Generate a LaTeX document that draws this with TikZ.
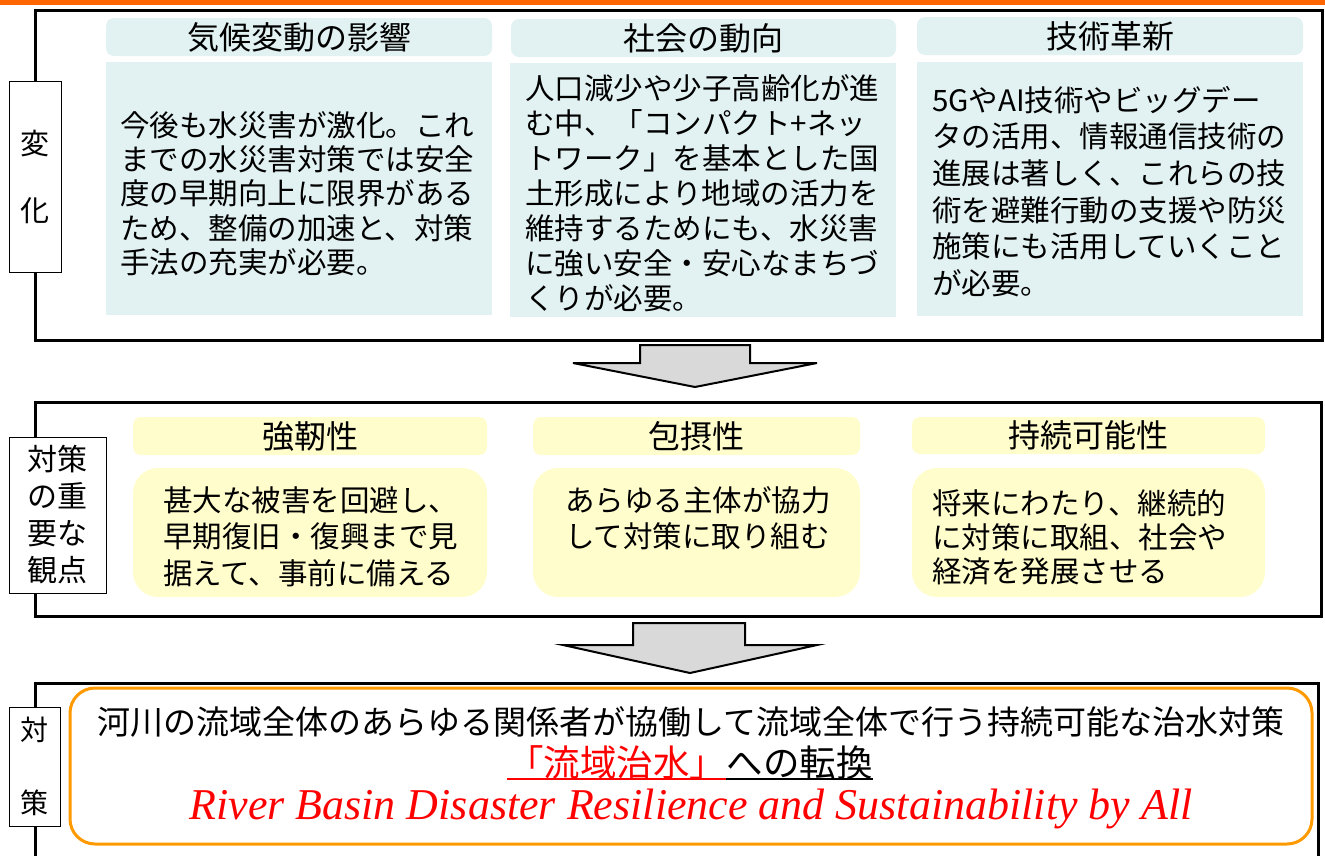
\documentclass[tikz,border=0pt]{standalone}
\usepackage{fontspec}
\setmainfont{Liberation Serif}
\newfontfamily\jp{Noto Sans CJK JP}
\usetikzlibrary{calc}
\definecolor{topor}{RGB}{255,102,0}
\definecolor{boxor}{RGB}{255,153,0}
\definecolor{cyanbg}{RGB}{226,241,241}
\definecolor{yelbg}{RGB}{255,253,204}
\definecolor{arrowgray}{RGB}{217,217,217}
\definecolor{txtred}{RGB}{255,0,0}
\begin{document}
\begin{tikzpicture}[x=1pt,y=-1pt,
  frame/.style={draw=black, line width=3pt, inner sep=0pt, anchor=north west},
  tagbox/.style={draw=black, line width=1pt, fill=white, inner sep=0pt, align=center},
  chead/.style={fill=cyanbg, rounded corners=8pt, inner sep=0pt, font={\jp\fontsize{32pt}{38pt}\selectfont}},
  cbody/.style={fill=cyanbg, inner sep=0pt},
  yhead/.style={fill=yelbg, rounded corners=8pt, inner sep=0pt, font={\jp\fontsize{32pt}{38pt}\selectfont}},
  ybody/.style={fill=yelbg, rounded corners=25pt, inner sep=0pt},
  bodytxt/.style={inner sep=0pt, anchor=west, align=left},
  blockarrow/.style={draw=black, line width=2pt, fill=arrowgray, line join=miter}
]
\useasboundingbox (0,0) rectangle (1325,855);
\fill[topor] (0,0) rectangle (1325,4.5);

% ---- frames ----
\node[frame, minimum width=1287pt, minimum height=330pt] (f1) at (34,9) {};
\node[frame, minimum width=1286pt, minimum height=214pt] (f2) at (34,401) {};
\node[frame, minimum width=1283pt, minimum height=190pt] (f3) at (34,682) {};

% ---- tags ----
\node[tagbox, minimum width=52pt, minimum height=191pt, font={\jp\fontsize{29pt}{67pt}\selectfont}] (tag1) at (35,176.5) {変\\化};
\node[tagbox, minimum width=97pt, minimum height=156pt, font={\jp\fontsize{30pt}{37pt}\selectfont}] (tag2) at (57.5,515) {対策\\の重\\要な\\観点};
\node[tagbox, minimum width=51pt, minimum height=119pt, font={\jp\fontsize{28pt}{73pt}\selectfont}] (tag3) at (34.5,766.5) {対\\策};

% ---- top section ----
\node[chead, minimum width=386pt, minimum height=38pt] (h1) at (299,37) {気候変動の影響};
\node[chead, minimum width=385pt, minimum height=38pt] (h2) at (703.5,38) {社会の動向};
\node[chead, minimum width=386pt, minimum height=38pt] (h3) at (1110,36) {技術革新};
\node[cbody, minimum width=386pt, minimum height=253pt] (b1) at (299,188.5) {};
\node[cbody, minimum width=386pt, minimum height=254pt] (b2) at (703,190) {};
\node[cbody, minimum width=386pt, minimum height=254pt] (b3) at (1110,189) {};
\node[bodytxt, font={\jp\fontsize{29.5pt}{34.3pt}\selectfont}] (t1) at (120,193.5)
 {今後も水災害が激化。これ\\までの水災害対策では安全\\度の早期向上に限界がある\\ため、整備の加速と、対策\\手法の充実が必要。};
\node[bodytxt, font={\jp\fontsize{29.5pt}{35pt}\selectfont}] (t2) at (525,193)
 {人口減少や少子高齢化が進\\む中、「コンパクト+ネッ\\トワーク」を基本とした国\\土形成により地域の活力を\\維持するためにも、水災害\\に強い安全・安心なまちづ\\くりが必要。};
\node[bodytxt, font={\jp\fontsize{29.5pt}{36.6pt}\selectfont}] (t3) at (932,191.5)
 {5GやAI技術やビッグデー\\タの活用、情報通信技術の\\進展は著しく、これらの技\\術を避難行動の支援や防災\\施策にも活用していくこと\\が必要。};

% ---- arrow 1 ----
\draw[blockarrow] (640,345) -- (750,345) -- (750,363) -- (817,363) -- (695,387) -- (573,363) -- (640,363) -- cycle;

% ---- middle section ----
\node[yhead, minimum width=354pt, minimum height=38pt] (yh1) at (310,436) {強靭性};
\node[yhead, minimum width=327pt, minimum height=38pt] (yh2) at (696.5,436) {包摂性};
\node[yhead, minimum width=353pt, minimum height=37pt] (yh3) at (1088.5,435.5) {持続可能性};
\node[ybody, minimum width=354pt, minimum height=129pt] (yb1) at (310,532.5) {};
\node[ybody, minimum width=327pt, minimum height=129pt] (yb2) at (696.5,532.5) {};
\node[ybody, minimum width=353pt, minimum height=129pt] (yb3) at (1088.5,532.5) {};
\node[bodytxt, font={\jp\fontsize{29.5pt}{36.5pt}\selectfont}] (m1) at (163,536.5)
 {甚大な被害を回避し、\\早期復旧・復興まで見\\据えて、事前に備える};
\node[bodytxt, font={\jp\fontsize{29.5pt}{36.5pt}\selectfont}] (m2) at (565,518)
 {あらゆる主体が協力\\して対策に取り組む};
\node[bodytxt, font={\jp\fontsize{29.5pt}{34pt}\selectfont}] (m3) at (932,537)
 {将来にわたり、継続的\\に対策に取組、社会や\\経済を発展させる};

% ---- arrow 2 ----
\draw[blockarrow] (633,623) -- (745,623) -- (745,645) -- (817,645) -- (690,673) -- (563,645) -- (633,645) -- cycle;

% ---- bottom section ----
\node[draw=boxor, line width=3pt, rounded corners=25pt, minimum width=1242pt, minimum height=156pt, inner sep=0pt] (ob) at (691,766) {};
\node[inner sep=0pt, font={\jp\fontsize{33pt}{38pt}\selectfont}] (l1) at (691,722)
 {河川の流域全体のあらゆる関係者が協働して流域全体で行う持続可能な治水対策};
\node[inner sep=0pt, anchor=west, text=txtred, font={\jp\fontsize{36.5pt}{40pt}\selectfont}] (l2a) at (507,763) {「流域治水」};
\node[inner sep=0pt, anchor=west, font={\jp\fontsize{36.5pt}{40pt}\selectfont}] (l2b) at (l2a.east) {への転換};
\draw[txtred, line width=2pt] ($(l2a.west)+(0,16)$) -- ($(l2a.east)+(0,16)$);
\draw[black, line width=2pt] ($(l2b.west)+(0,16)$) -- ($(l2b.east)+(0,16)$);
\node[inner sep=0pt, text=txtred, font={\fontsize{44pt}{50pt}\selectfont\itshape}] (l3) at (691,809)
 {River Basin Disaster Resilience and Sustainability by All};
\end{tikzpicture}
\end{document}
